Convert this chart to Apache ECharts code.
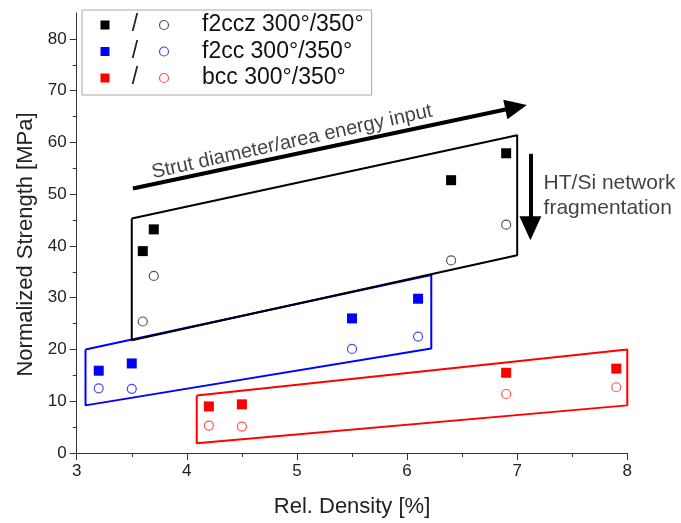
<!DOCTYPE html>
<html><head><meta charset="utf-8">
<script src="https://cdn.jsdelivr.net/npm/echarts@6/dist/echarts.min.js"></script>
<style>html,body{margin:0;padding:0;background:#fff}#c{width:681px;height:523px}</style>
</head><body><div id="c"></div>
<script>
// ---- data ----
const seriesNames = ['f2ccz 300°/350°', 'f2cc 300°/350°', 'bcc 300°/350°'];
const f2ccz300 = [[3.6, 39.0], [3.7, 43.2], [6.4, 52.7], [6.9, 57.9]];
const f2ccz350 = [[3.6, 25.4], [3.7, 34.2], [6.4, 37.2], [6.9, 44.1]];
const f2cc300 = [[3.2, 15.9], [3.5, 17.3], [5.5, 26.0], [6.1, 29.8]];
const f2cc350 = [[3.2, 12.5], [3.5, 12.4], [5.5, 20.1], [6.1, 22.5]];
const bcc300 = [[4.2, 9.0], [4.5, 9.4], [6.9, 15.5], [7.9, 16.3]];
const bcc350 = [[4.2, 5.3], [4.5, 5.1], [6.9, 11.4], [7.9, 12.7]];
const f2cczBox = [[3.5, 45.3], [7.0, 61.4], [7.0, 38.2], [3.5, 21.8], [3.5, 45.3]];
const f2ccBox = [[3.08, 20.0], [6.22, 34.4], [6.22, 20.2], [3.08, 9.2], [3.08, 20.0]];
const bccBox = [[4.09, 11.1], [8.0, 20.0], [8.0, 9.2], [4.09, 1.9], [4.09, 11.1]];
const arrowEnergy = [[3.51, 51.1], [6.99, 66.8]];
const arrowHT = [[7.12, 57.8], [7.12, 43.4]];
const annotationTexts = ['Strut diameter/area energy input', 'HT/Si network\nfragmentation'];
const annotationPos = [[4.955, 60.1], [7.235, 49.7]];
const xTicks = [3, 4, 5, 6, 7, 8];
const yTicks = [0, 10, 20, 30, 40, 50, 60, 70, 80];
const yMinorTicks = [5, 15, 25, 35, 45, 55, 65, 75];
const xTitle = 'Rel. Density [%]';
const yTitle = 'Normalized Strength [MPa]';

const FONT = 'Liberation Sans, Arial, sans-serif';
const sqColors = ['#000000', '#0000ff', '#ff0000'];
const ciColors = ['#555555', '#4747ff', '#ff5050'];

const chart = echarts.init(document.getElementById('c'), null, {renderer: 'canvas'});

function sq(name, data, color) {
  return {name: name, type: 'scatter', data: data, symbol: 'rect', symbolSize: 10,
    itemStyle: {color: color, opacity: 1}, z: 5};
}
function ci(name, data, color) {
  return {name: name, type: 'scatter', data: data, symbol: 'circle', symbolSize: 9,
    itemStyle: {color: 'rgba(255,255,255,0)', borderColor: color, borderWidth: 1.2, opacity: 1}, z: 5};
}
function box(data, color, z) {
  return {type: 'line', data: data, showSymbol: false, symbol: 'none', silent: true,
    lineStyle: {color: color, width: 2}, z: z};
}
function arrow(pts, size) {
  return {type: 'scatter', data: [], silent: true,
    markLine: {silent: true, animation: false, symbol: ['none', 'triangle'], symbolSize: size,
      label: {show: false}, lineStyle: {color: '#000', width: 4, type: 'solid'},
      data: [[{coord: pts[0]}, {coord: pts[1]}]]}};
}

const rich = {
  s: {width: 41, align: 'center', fontSize: 23, color: '#222', fontFamily: FONT},
  g1: {width: 4},
  g2: {width: 33.5},
  t: {fontSize: 23, color: '#111', fontFamily: FONT}
};
ciColors.forEach(function (c, i) {
  rich['c' + i] = {width: 9, height: 9, borderRadius: 5, borderColor: c, borderWidth: 1.2};
});

const option = {
  animation: false,
  backgroundColor: '#fff',
  grid: {left: 76.7, right: 53.7, top: 13, bottom: 68, containLabel: false},
  legend: {
    orient: 'vertical', left: 82, top: 10,
    padding: [3.5, 8, 5.5, 18.5],
    borderColor: '#aaa', borderWidth: 1,
    itemWidth: 9, itemHeight: 9, itemGap: 3.5, itemTextGap: 5,
    icon: 'rect', selectedMode: false,
    data: seriesNames,
    formatter: function (name) {
      const i = seriesNames.indexOf(name);
      return '{s|/}{g1| }{c' + i + '| }{g2| }{t|' + name + '}';
    },
    textStyle: {fontFamily: FONT, fontSize: 23, lineHeight: 23, color: '#111', rich: rich}
  },
  xAxis: {
    type: 'value', min: 3, max: 8, interval: 1,
    name: xTitle, nameLocation: 'middle', nameGap: 43,
    nameTextStyle: {fontFamily: FONT, fontSize: 22, color: '#222'},
    axisLine: {show: true, lineStyle: {color: '#333', width: 1}},
    axisTick: {show: true, inside: false, length: 7, lineStyle: {color: '#333'}},
    minorTick: {show: true, splitNumber: 2, length: 4, lineStyle: {color: '#333'}},
    axisLabel: {fontFamily: FONT, fontSize: 17, color: '#222', margin: 10,
      formatter: function (v) { return xTicks.indexOf(v) >= 0 ? String(v) : ''; }},
    splitLine: {show: false}, minorSplitLine: {show: false}
  },
  yAxis: [{
    type: 'value', min: 0, max: 85, interval: 10, position: 'left',
    name: yTitle, nameLocation: 'middle', nameGap: 39,
    nameTextStyle: {fontFamily: FONT, fontSize: 22, color: '#222', padding: [0, 23, 0, 0]},
    axisLine: {show: true, onZero: false, lineStyle: {color: '#333', width: 1}},
    axisTick: {show: true, inside: false, length: 7, customValues: yTicks, lineStyle: {color: '#333'}},
    axisLabel: {fontFamily: FONT, fontSize: 17, color: '#222', margin: 10, customValues: yTicks},
    splitLine: {show: false}
  }, {
    type: 'value', min: 0, max: 85, interval: 5, position: 'left', offset: 0,
    axisLine: {show: false},
    axisTick: {show: true, inside: false, length: 4, customValues: yMinorTicks, lineStyle: {color: '#333'}},
    axisLabel: {show: false},
    splitLine: {show: false}
  }],
  series: [
    box(f2ccBox, '#0000ff', 2),
    box(bccBox, '#ff0000', 2),
    box(f2cczBox, '#000000', 3),
    sq(seriesNames[0], f2ccz300, sqColors[0]),
    ci('f2ccz 350°', f2ccz350, ciColors[0]),
    sq(seriesNames[1], f2cc300, sqColors[1]),
    ci('f2cc 350°', f2cc350, ciColors[1]),
    sq(seriesNames[2], bcc300, sqColors[2]),
    ci('bcc 350°', bcc350, ciColors[2]),
    arrow(arrowEnergy, [20, 22]),
    arrow(arrowHT, [22, 24]),
    {
      type: 'scatter', silent: true, symbolSize: 1, itemStyle: {color: 'rgba(0,0,0,0)'},
      data: [
        {value: annotationPos[0], label: {show: true, position: 'inside', rotate: 12.5,
          formatter: annotationTexts[0], fontFamily: FONT, fontSize: 20, color: '#111'}},
        {value: annotationPos[1], label: {show: true, position: 'right', distance: 0,
          align: 'left', verticalAlign: 'middle', lineHeight: 25,
          formatter: annotationTexts[1], fontFamily: FONT, fontSize: 21, color: '#111'}}
      ]
    }
  ]
};
chart.setOption(option);
</script>
</body></html>
